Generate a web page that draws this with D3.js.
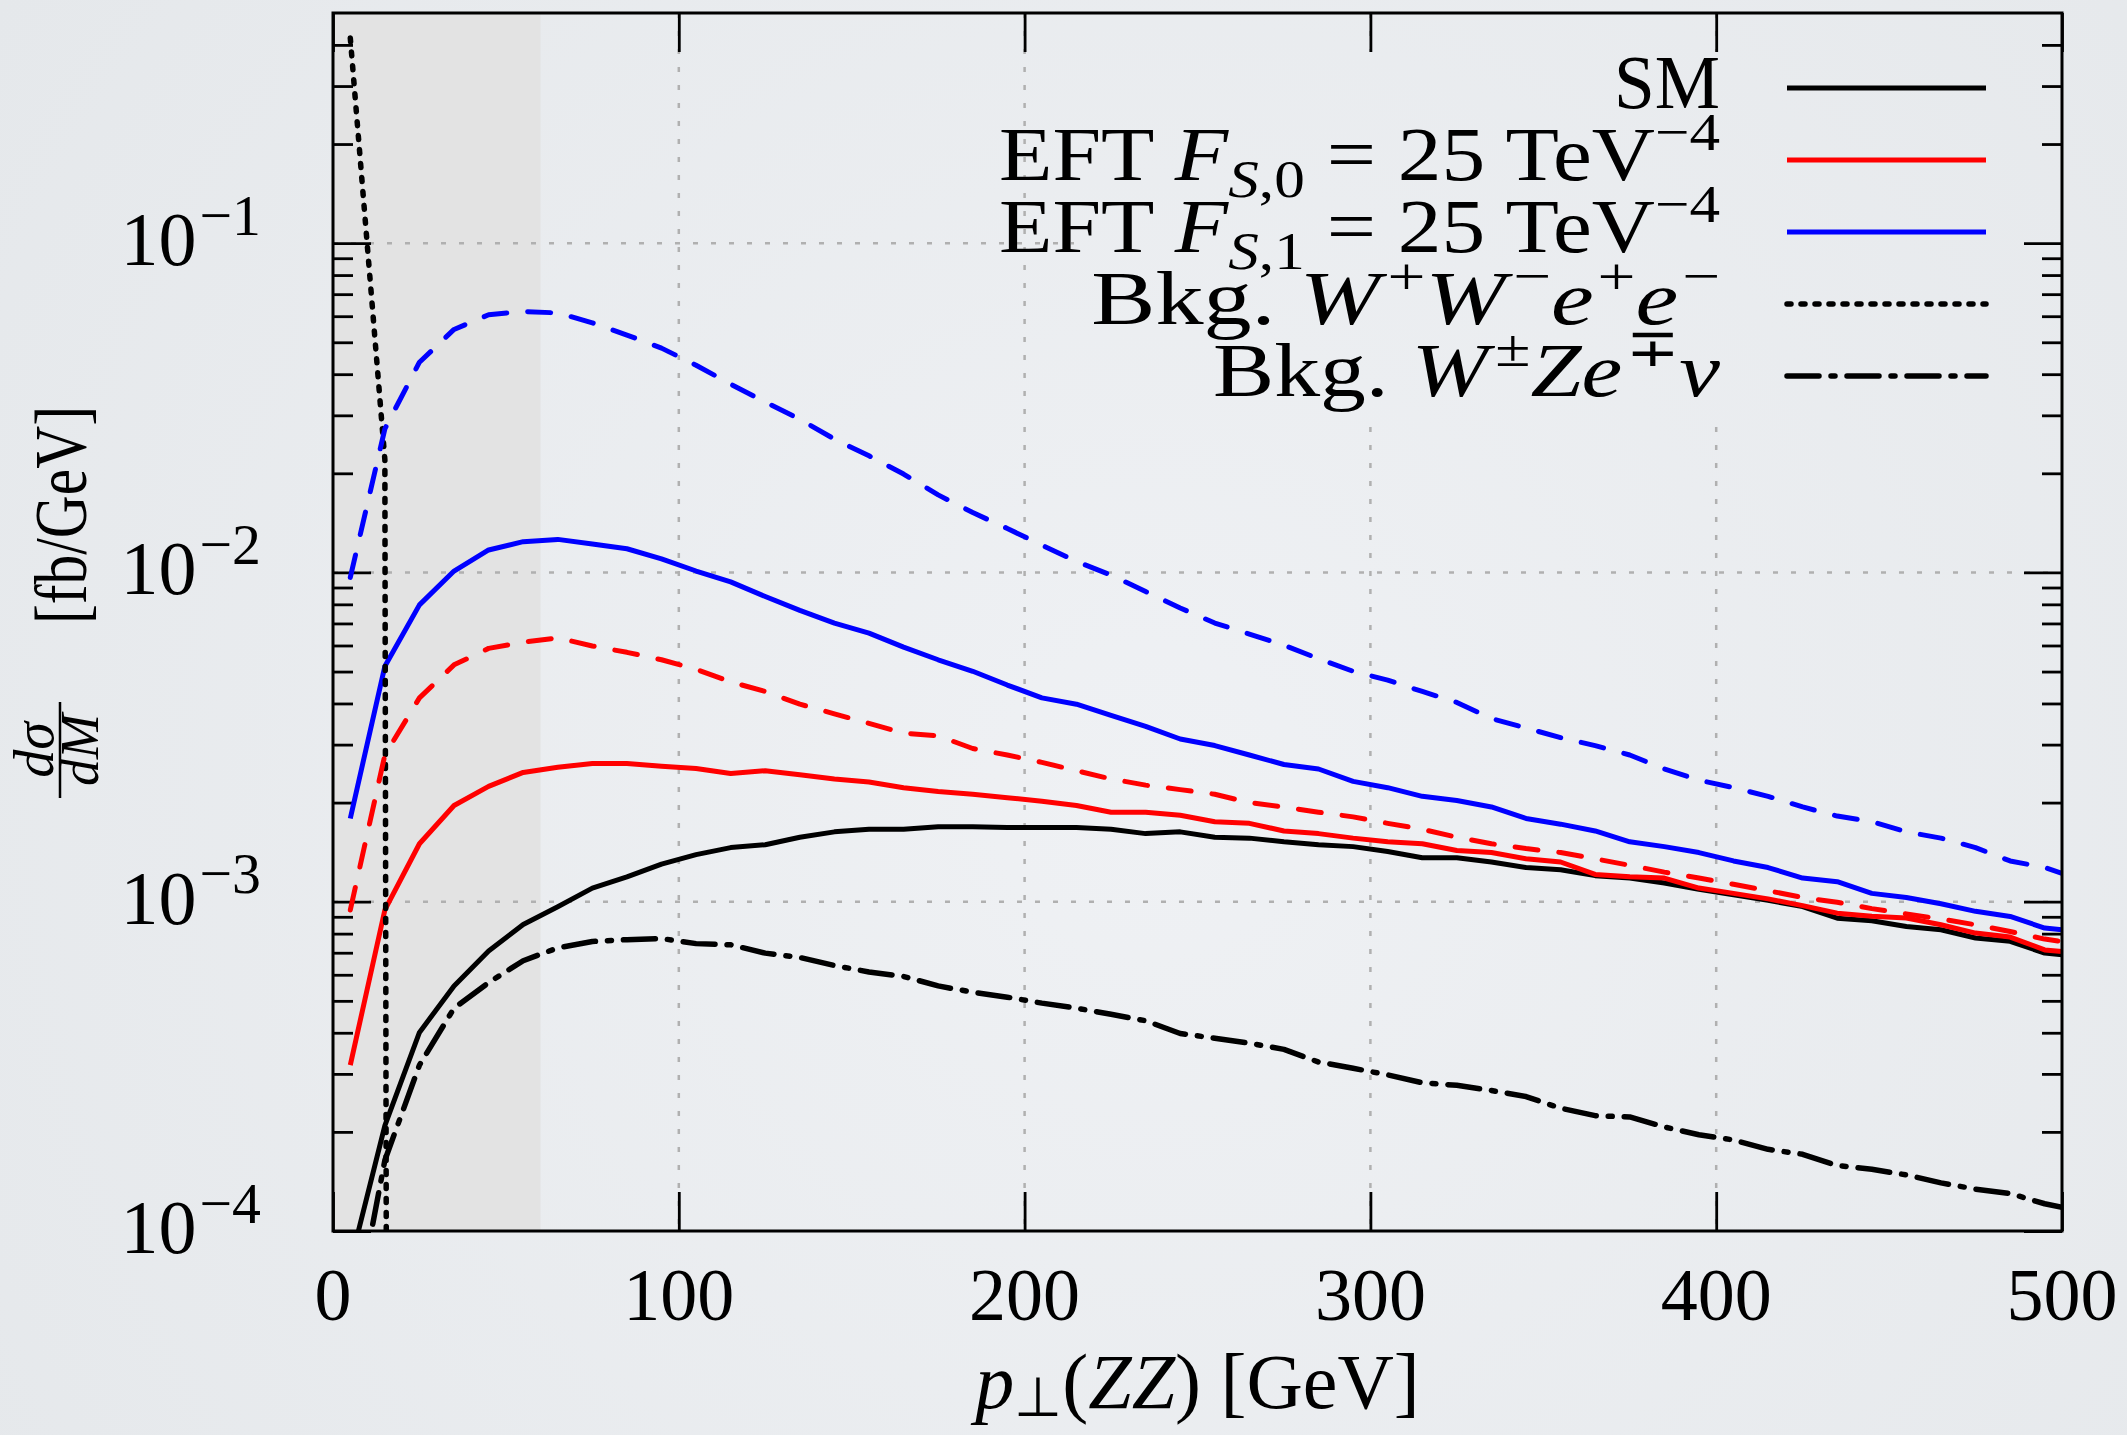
<!DOCTYPE html>
<html>
<head>
<meta charset="utf-8">
<script src="https://cdn.jsdelivr.net/npm/d3@7"></script>
<style>
  body { margin: 0; background: #eaedf0; }
  svg { display: block; }
  text { font-family: 'Liberation Serif', 'Times New Roman', serif; fill: #000; white-space: pre; }
</style>
</head>
<body>
<div id="chart"></div>
<script>
// p_T(ZZ) bin centres [GeV]
const ptBins = [5, 15, 25, 35, 45, 55, 65, 75, 85, 95,
  105, 115, 125, 135, 145, 155, 165, 175, 185, 195,
  205, 215, 225, 235, 245, 255, 265, 275, 285, 295,
  305, 315, 325, 335, 345, 355, 365, 375, 385, 395,
  405, 415, 425, 435, 445, 455, 465, 475, 485, 495, 500];

// dsigma/dM [fb/GeV]
const smValues = [7.98e-5, 2.09e-4, 4.01e-4, 5.55e-4, 7.08e-4, 8.53e-4, 9.66e-4, 1.10e-3, 1.19e-3, 1.30e-3,
  1.39e-3, 1.46e-3, 1.49e-3, 1.57e-3, 1.63e-3, 1.66e-3, 1.66e-3, 1.69e-3, 1.69e-3, 1.68e-3,
  1.68e-3, 1.68e-3, 1.66e-3, 1.61e-3, 1.63e-3, 1.57e-3, 1.56e-3, 1.52e-3, 1.49e-3, 1.47e-3,
  1.42e-3, 1.36e-3, 1.36e-3, 1.32e-3, 1.27e-3, 1.25e-3, 1.20e-3, 1.18e-3, 1.14e-3, 1.09e-3,
  1.05e-3, 1.01e-3, 9.66e-4, 8.91e-4, 8.75e-4, 8.41e-4, 8.22e-4, 7.76e-4, 7.58e-4, 6.98e-4, 6.90e-4];

const fs0Values = [3.19e-4, 9.44e-4, 1.50e-3, 1.96e-3, 2.24e-3, 2.47e-3, 2.56e-3, 2.63e-3, 2.63e-3, 2.58e-3,
  2.54e-3, 2.45e-3, 2.50e-3, 2.43e-3, 2.36e-3, 2.31e-3, 2.22e-3, 2.16e-3, 2.12e-3, 2.07e-3,
  2.02e-3, 1.96e-3, 1.87e-3, 1.87e-3, 1.83e-3, 1.75e-3, 1.73e-3, 1.64e-3, 1.61e-3, 1.56e-3,
  1.52e-3, 1.50e-3, 1.43e-3, 1.41e-3, 1.35e-3, 1.32e-3, 1.21e-3, 1.19e-3, 1.18e-3, 1.10e-3,
  1.06e-3, 1.02e-3, 9.73e-4, 9.23e-4, 9.03e-4, 8.92e-4, 8.51e-4, 8.03e-4, 7.81e-4, 7.14e-4, 7.06e-4];

const fs1Values = [1.79e-3, 5.19e-3, 7.97e-3, 1.01e-2, 1.17e-2, 1.24e-2, 1.26e-2, 1.22e-2, 1.18e-2, 1.10e-2,
  1.01e-2, 9.36e-3, 8.45e-3, 7.67e-3, 7.02e-3, 6.54e-3, 5.93e-3, 5.43e-3, 5.01e-3, 4.55e-3,
  4.16e-3, 3.98e-3, 3.68e-3, 3.41e-3, 3.12e-3, 2.98e-3, 2.79e-3, 2.61e-3, 2.53e-3, 2.32e-3,
  2.22e-3, 2.09e-3, 2.03e-3, 1.94e-3, 1.79e-3, 1.72e-3, 1.64e-3, 1.52e-3, 1.47e-3, 1.41e-3,
  1.33e-3, 1.27e-3, 1.18e-3, 1.15e-3, 1.06e-3, 1.03e-3, 9.86e-4, 9.35e-4, 9.02e-4, 8.32e-4, 8.22e-4];

// dashed variants (no legend entry)
const fs0DashValues = [9.44e-4, 2.79e-3, 4.16e-3, 5.24e-3, 5.88e-3, 6.14e-3, 6.33e-3, 5.98e-3, 5.72e-3, 5.43e-3,
  5.08e-3, 4.65e-3, 4.35e-3, 3.98e-3, 3.72e-3, 3.48e-3, 3.25e-3, 3.19e-3, 2.92e-3, 2.79e-3,
  2.65e-3, 2.50e-3, 2.36e-3, 2.26e-3, 2.19e-3, 2.12e-3, 2.00e-3, 1.94e-3, 1.87e-3, 1.81e-3,
  1.73e-3, 1.66e-3, 1.57e-3, 1.50e-3, 1.45e-3, 1.41e-3, 1.35e-3, 1.29e-3, 1.23e-3, 1.18e-3,
  1.13e-3, 1.08e-3, 1.03e-3, 9.96e-4, 9.53e-4, 9.18e-4, 8.86e-4, 8.51e-4, 8.12e-4, 7.70e-4, 7.57e-4];

const fs1DashValues = [9.66e-3, 2.73e-2, 4.35e-2, 5.47e-2, 6.06e-2, 6.20e-2, 6.14e-2, 5.73e-2, 5.26e-2, 4.80e-2,
  4.26e-2, 3.73e-2, 3.29e-2, 2.92e-2, 2.54e-2, 2.26e-2, 1.99e-2, 1.72e-2, 1.52e-2, 1.36e-2,
  1.21e-2, 1.08e-2, 9.82e-3, 8.75e-3, 7.80e-3, 7.02e-3, 6.50e-3, 6.01e-3, 5.47e-3, 5.01e-3,
  4.71e-3, 4.35e-3, 4.03e-3, 3.60e-3, 3.37e-3, 3.15e-3, 2.98e-3, 2.79e-3, 2.53e-3, 2.34e-3,
  2.22e-3, 2.09e-3, 1.94e-3, 1.82e-3, 1.75e-3, 1.63e-3, 1.56e-3, 1.46e-3, 1.33e-3, 1.27e-3, 1.22e-3];

const wzValues = [4.6e-5, 1.64e-4, 3.19e-4, 4.75e-4, 5.68e-4, 6.62e-4, 7.24e-4, 7.57e-4, 7.67e-4, 7.73e-4,
  7.46e-4, 7.40e-4, 6.98e-4, 6.77e-4, 6.40e-4, 6.12e-4, 5.93e-4, 5.55e-4, 5.31e-4, 5.13e-4,
  4.92e-4, 4.75e-4, 4.55e-4, 4.35e-4, 3.98e-4, 3.85e-4, 3.72e-4, 3.56e-4, 3.26e-4, 3.12e-4,
  2.98e-4, 2.82e-4, 2.77e-4, 2.67e-4, 2.56e-4, 2.36e-4, 2.24e-4, 2.22e-4, 2.07e-4, 1.96e-4,
  1.89e-4, 1.77e-4, 1.71e-4, 1.58e-4, 1.54e-4, 1.48e-4, 1.40e-4, 1.34e-4, 1.30e-4, 1.21e-4, 1.18e-4];

// W+W-e+e- background only lives in the first bins, then drops to ~0
const wweeBins = [5, 15, 25];
const wweeValues = [0.42, 0.022, 1e-60];

const xTicks = [0, 100, 200, 300, 400, 500];
const yMajor = [1e-4, 1e-3, 1e-2, 1e-1];
const yMinor = [2e-4, 3e-4, 4e-4, 5e-4, 6e-4, 7e-4, 8e-4, 9e-4,
  2e-3, 3e-3, 4e-3, 5e-3, 6e-3, 7e-3, 8e-3, 9e-3,
  2e-2, 3e-2, 4e-2, 5e-2, 6e-2, 7e-2, 8e-2, 9e-2,
  0.2, 0.3, 0.4];
const cutRange = [0, 60];

const legendEntries = [
  [{ t: 'SM' }],
  [{ t: 'EFT ' }, { t: 'F', it: 1 }, { t: 'S', it: 1, sub: 1 }, { t: ',0', sub: 1 }, { t: ' = 25 TeV' }, { t: '\u22124', sup: 1 }],
  [{ t: 'EFT ' }, { t: 'F', it: 1 }, { t: 'S', it: 1, sub: 1 }, { t: ',1', sub: 1 }, { t: ' = 25 TeV' }, { t: '\u22124', sup: 1 }],
  [{ t: 'Bkg. ' }, { t: 'W', it: 1 }, { t: '+', sup: 1, dx: 6 }, { t: 'W', it: 1 }, { t: '\u2212', sup: 1, dx: 6 }, { t: 'e', it: 1 }, { t: '+', sup: 1, dx: 3 }, { t: 'e', it: 1 }, { t: '\u2212', sup: 1, dx: 3 }],
  [{ t: 'Bkg. ' }, { t: 'W', it: 1 }, { t: '\u00b1', sup: 1, dx: 6 }, { t: 'Ze', it: 1 }, { t: '\u2213', sup: 1, dx: 3 }, { t: '\u03bd', it: 1 }]
];
// rendered widths of the key labels in the reference (Computer Modern is wider)
const legendWidths = [106, 721, 721, 606, 496];

const W = 2127, H = 1435;
const margin = { left: 333, right: 2062, top: 13, bottom: 1231 };

const x = d3.scaleLinear().domain([0, 500]).range([margin.left, margin.right]);
const y = d3.scaleLog().domain([1e-4, 0.5]).range([margin.bottom, margin.top]);

const svg = d3.select('#chart').append('svg')
  .attr('width', W)
  .attr('height', H);

// slide-like background with a soft vignette
const defs = svg.append('defs');
const bg = defs.append('radialGradient')
  .attr('id', 'bg')
  .attr('gradientUnits', 'userSpaceOnUse')
  .attr('cx', 1150).attr('cy', 800).attr('r', 1400);
bg.append('stop').attr('offset', 0).attr('stop-color', '#eff1f4');
bg.append('stop').attr('offset', 1).attr('stop-color', '#e5e8eb');

defs.append('clipPath').attr('id', 'plot-clip')
  .append('rect')
  .attr('x', margin.left).attr('y', margin.top)
  .attr('width', margin.right - margin.left)
  .attr('height', margin.bottom - margin.top);

svg.append('rect').attr('width', W).attr('height', H).attr('fill', 'url(#bg)');

// shaded p_T cut region
svg.append('rect')
  .attr('x', x(cutRange[0]))
  .attr('y', margin.top)
  .attr('width', x(cutRange[1]) - x(cutRange[0]))
  .attr('height', margin.bottom - margin.top)
  .attr('fill', '#e3e3e3');

// grid
const grid = svg.append('g')
  .attr('stroke', '#b0b0b0')
  .attr('stroke-width', 2.5)
  .attr('stroke-dasharray', '5,13');
grid.selectAll('.gx')
  .data(xTicks.slice(1, -1))
  .enter()
  .append('line')
  .attr('x1', d => x(d)).attr('x2', d => x(d))
  .attr('y1', margin.top).attr('y2', margin.bottom);
grid.selectAll('.gy')
  .data(yMajor.slice(1))
  .enter()
  .append('line')
  .attr('x1', margin.left).attr('x2', margin.right)
  .attr('y1', d => y(d)).attr('y2', d => y(d));

// opaque key box hides the grid behind the legend
svg.append('rect')
  .attr('x', 1074).attr('y', 52)
  .attr('width', margin.right - 1074).attr('height', 363)
  .attr('fill', 'url(#bg)');

// ticks on all four sides, pointing inwards
const tickStyle = g => {
  g.select('.domain').remove();
  g.selectAll('line').attr('stroke', '#000').attr('stroke-width', 2.8);
  g.selectAll('text').remove();
};
svg.append('g').attr('transform', `translate(0,${margin.bottom})`)
  .call(d3.axisTop(x).tickValues(xTicks).tickSize(39)).call(tickStyle);
svg.append('g').attr('transform', `translate(0,${margin.top})`)
  .call(d3.axisBottom(x).tickValues(xTicks).tickSize(39)).call(tickStyle);
svg.append('g').attr('transform', `translate(${margin.left},0)`)
  .call(d3.axisRight(y).tickValues(yMajor).tickSize(38)).call(tickStyle);
svg.append('g').attr('transform', `translate(${margin.left},0)`)
  .call(d3.axisRight(y).tickValues(yMinor).tickSize(20)).call(tickStyle);
svg.append('g').attr('transform', `translate(${margin.right},0)`)
  .call(d3.axisLeft(y).tickValues(yMajor).tickSize(38)).call(tickStyle);
svg.append('g').attr('transform', `translate(${margin.right},0)`)
  .call(d3.axisLeft(y).tickValues(yMinor).tickSize(20)).call(tickStyle);

// curves
const line = bins => d3.line()
  .x((d, i) => x(bins[i]))
  .y(d => y(d));

const series = [
  { values: smValues, bins: ptBins, color: '#000', width: 5, dash: null, cap: 'butt' },
  { values: fs0Values, bins: ptBins, color: '#ff0000', width: 5, dash: null, cap: 'butt' },
  { values: fs1Values, bins: ptBins, color: '#0000ff', width: 5, dash: null, cap: 'butt' },
  { values: wweeValues, bins: wweeBins, color: '#000', width: 5.5, dash: '4,10', cap: 'round' },
  { values: wzValues, bins: ptBins, color: '#000', width: 5.5, dash: '32,12,4,12', cap: 'round' },
  { values: fs0DashValues, bins: ptBins, color: '#ff0000', width: 5, dash: '23,21', cap: 'round' },
  { values: fs1DashValues, bins: ptBins, color: '#0000ff', width: 5, dash: '23,21', cap: 'round' }
];

svg.append('g')
  .attr('clip-path', 'url(#plot-clip)')
  .selectAll('path')
  .data(series)
  .enter()
  .append('path')
  .attr('d', d => line(d.bins)(d.values))
  .attr('fill', 'none')
  .attr('stroke', d => d.color)
  .attr('stroke-width', d => d.width)
  .attr('stroke-dasharray', d => d.dash)
  .attr('stroke-linecap', d => d.cap)
  .attr('stroke-linejoin', 'round');

// frame
svg.append('rect')
  .attr('x', margin.left).attr('y', margin.top)
  .attr('width', margin.right - margin.left)
  .attr('height', margin.bottom - margin.top)
  .attr('fill', 'none')
  .attr('stroke', '#000')
  .attr('stroke-width', 3);

// text with italic parts, sub- and superscripts
function richText(sel, parts, size, scriptScale = 0.7) {
  let off = 0;
  parts.forEach(p => {
    const target = p.shift !== undefined ? p.shift
      : p.sup ? -0.4 * size : p.sub ? 0.22 * size : 0;
    sel.append('tspan')
      .attr('dy', target - off)
      .attr('dx', p.dx || null)
      .attr('font-size', p.sup || p.sub ? size * scriptScale : size)
      .attr('font-style', p.it ? 'italic' : null)
      .text(p.t);
    off = target;
  });
}

// tick labels
svg.append('g')
  .selectAll('text')
  .data(xTicks)
  .enter()
  .append('text')
  .attr('x', d => x(d))
  .attr('y', 1320)
  .attr('text-anchor', 'middle')
  .attr('font-size', 74)
  .text(d => d);

svg.append('g')
  .selectAll('text')
  .data(yMajor)
  .enter()
  .append('text')
  .attr('x', 261)
  .attr('y', d => y(d) + 22)
  .attr('text-anchor', 'end')
  .each(function (d) {
    richText(d3.select(this),
      [{ t: '10' }, { t: '\u2212' + Math.round(-Math.log10(d)), sup: 1, dx: 3 }], 76, 0.76);
  });

// axis titles
const xTitle = svg.append('text')
  .attr('x', (margin.left + margin.right) / 2)
  .attr('y', 1408)
  .attr('text-anchor', 'middle');
richText(xTitle, [{ t: 'p', it: 1 }, { t: '\u22a5', sub: 1, shift: 8 }, { t: '(' }, { t: 'ZZ', it: 1 }, { t: ') [GeV]' }], 78);

const yTitle = svg.append('g').attr('transform', 'translate(92,800) rotate(-90)');
yTitle.append('text')
  .attr('x', 50).attr('y', -39)
  .attr('text-anchor', 'middle')
  .attr('font-size', 56)
  .attr('font-style', 'italic')
  .text('d\u03c3');
yTitle.append('line')
  .attr('x1', 2).attr('x2', 98)
  .attr('y1', -32).attr('y2', -32)
  .attr('stroke', '#000')
  .attr('stroke-width', 2.5);
yTitle.append('text')
  .attr('x', 50).attr('y', 6)
  .attr('text-anchor', 'middle')
  .attr('font-size', 54)
  .attr('font-style', 'italic')
  .text('dM');
// unit label, condensed along its length like the reference
const unit = yTitle.append('g').attr('transform', 'translate(176,-6)')
  .append('text')
  .attr('font-size', 74)
  .text('[fb/GeV]');
unit.attr('transform', `scale(${218 / unit.node().getComputedTextLength()},1)`);

// legend
const legend = svg.append('g');
legendEntries.forEach((parts, i) => {
  const base = 108 + i * 72;
  const g = legend.append('g').attr('transform', `translate(1720,${base})`);
  const t = g.append('text').attr('text-anchor', 'end');
  richText(t, parts, 76);
  const w = t.node().getComputedTextLength();
  t.attr('transform', `scale(${legendWidths[i] / w},1)`);
  const s = series[i];
  legend.append('line')
    .attr('x1', 1787).attr('x2', 1986)
    .attr('y1', base - 20).attr('y2', base - 20)
    .attr('stroke', s.color)
    .attr('stroke-width', s.width)
    .attr('stroke-dasharray', s.dash)
    .attr('stroke-linecap', s.cap);
});
</script>
</body>
</html>
